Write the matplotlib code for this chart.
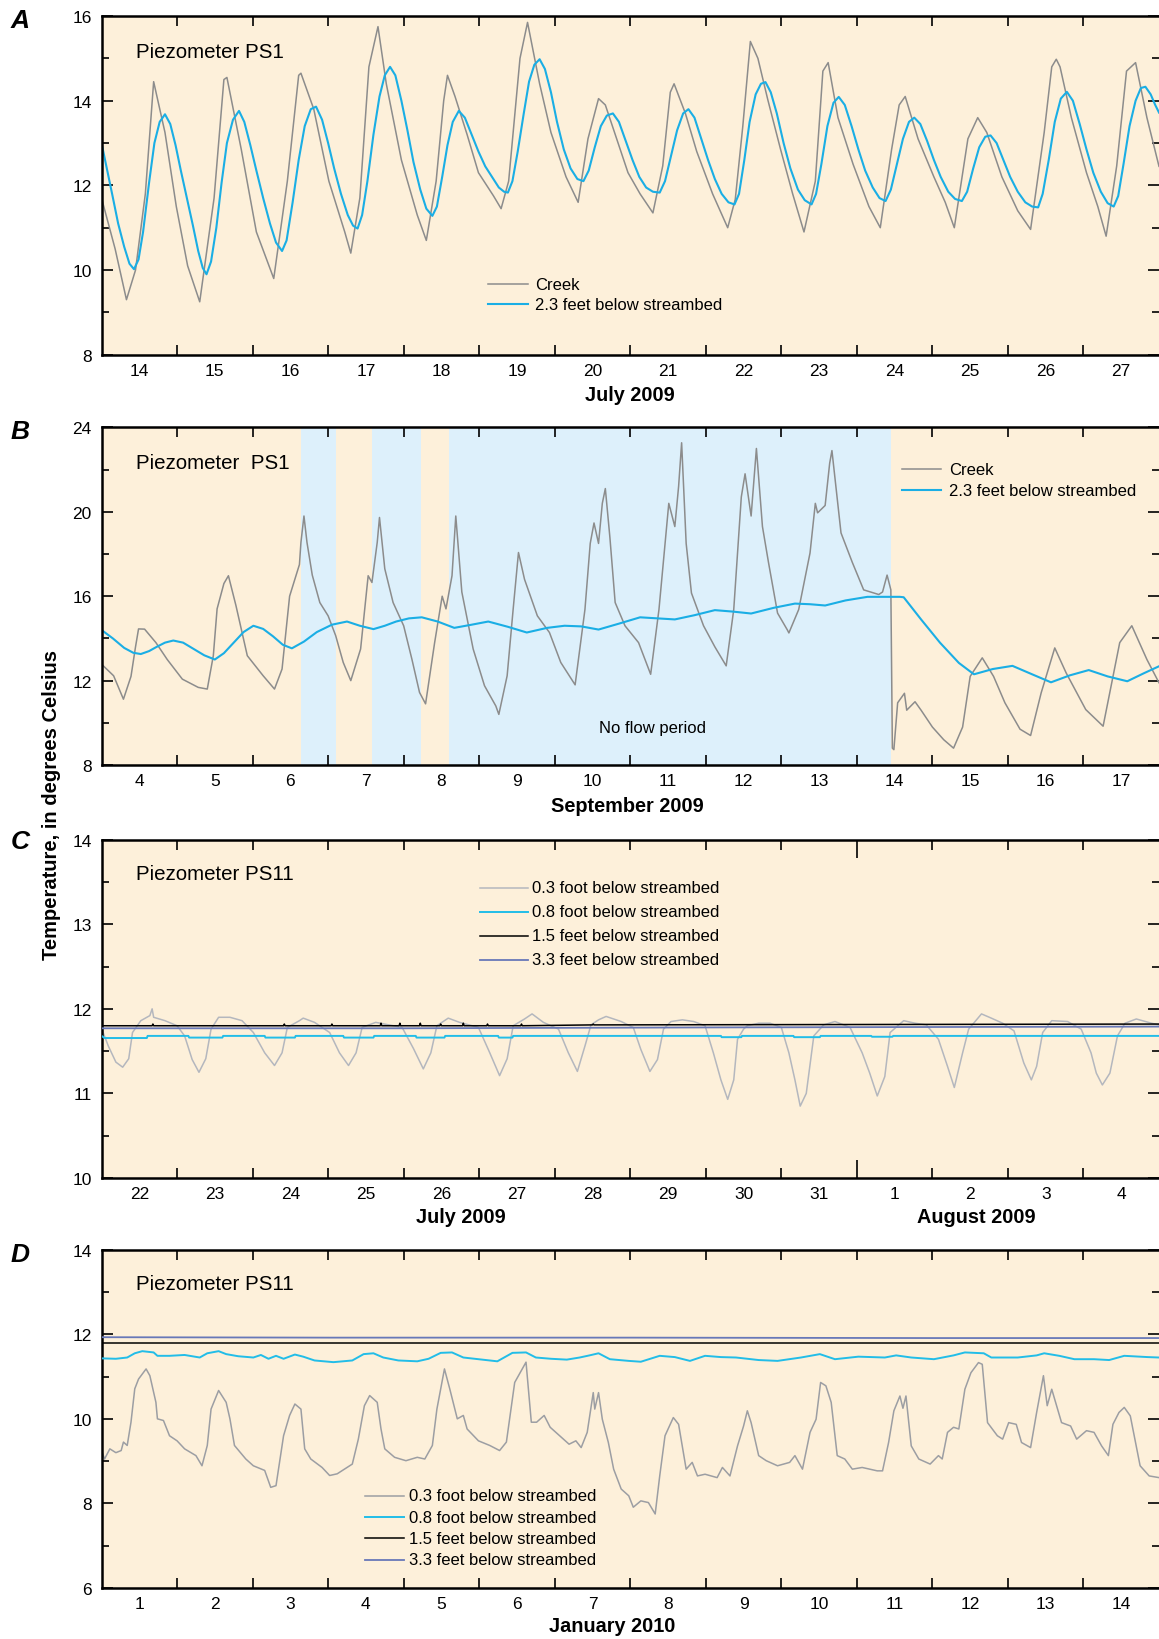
import numpy as np
import matplotlib
matplotlib.use("Agg")
import matplotlib.pyplot as plt

plt.rcParams['font.family'] = ['Liberation Sans', 'DejaVu Sans']

## Panel A - July 2009, piezometer PS1 (day of month)
a_creek_t = [14.00, 14.18, 14.33, 14.45, 14.58, 14.69, 14.84, 14.99, 15.14, 15.30,
             15.49, 15.62, 15.66, 15.85, 16.05, 16.28, 16.46, 16.61, 16.64, 16.81,
             17.01, 17.22, 17.30, 17.42, 17.54, 17.66, 17.77, 17.97, 18.18, 18.30,
             18.43, 18.53, 18.58, 18.68, 18.84, 18.99, 19.19, 19.29, 19.39, 19.54,
             19.64, 19.80, 19.95, 20.15, 20.31, 20.44, 20.58, 20.67, 20.82, 20.97,
             21.13, 21.30, 21.43, 21.53, 21.58, 21.73, 21.88, 22.09, 22.29, 22.39,
             22.49, 22.59, 22.69, 22.82, 22.99, 23.15, 23.30, 23.45, 23.55, 23.62,
             23.75, 23.95, 24.16, 24.31, 24.46, 24.56, 24.64, 24.81, 25.02, 25.17,
             25.29, 25.47, 25.60, 25.72, 25.92, 26.13, 26.30, 26.48, 26.58, 26.64,
             26.69, 26.84, 27.04, 27.19, 27.30, 27.44, 27.57, 27.69, 27.84, 28.00]
a_creek_v = [11.7, 10.5, 9.3, 10.0, 11.8, 14.45, 13.25, 11.5, 10.1, 9.25,
             11.7, 14.5, 14.55, 12.85, 10.9, 9.8, 12.1, 14.6, 14.65, 13.8,
             12.1, 10.9, 10.4, 11.7, 14.8, 15.75, 14.4, 12.6, 11.3, 10.7,
             12.1, 14.0, 14.6, 14.1, 13.2, 12.3, 11.75, 11.45, 12.1, 15.0,
             15.85, 14.4, 13.25, 12.2, 11.6, 13.1, 14.05, 13.9, 13.1, 12.3,
             11.8, 11.35, 12.46, 14.2, 14.4, 13.7, 12.8, 11.8, 11.0, 11.67,
             13.4, 15.4, 15.0, 14.03, 12.85, 11.8, 10.9, 12.1, 14.7, 14.9,
             13.6, 12.5, 11.5, 11.0, 12.85, 13.9, 14.1, 13.1, 12.2, 11.6,
             11.0, 13.1, 13.6, 13.25, 12.2, 11.4, 10.96, 13.25, 14.8, 14.98,
             14.8, 13.6, 12.3, 11.5, 10.8, 12.46, 14.7, 14.9, 13.6, 12.45]

a_deep_t = [14.00, 14.07, 14.14, 14.22, 14.30, 14.37, 14.43, 14.49, 14.55, 14.63,
            14.70, 14.77, 14.84, 14.91, 14.98, 15.05, 15.13, 15.21, 15.28, 15.34,
            15.39, 15.45, 15.52, 15.59, 15.66, 15.74, 15.82, 15.89, 15.97, 16.05,
            16.14, 16.23, 16.31, 16.39, 16.45, 16.53, 16.61, 16.69, 16.77, 16.84,
            16.92, 17.00, 17.08, 17.17, 17.26, 17.33, 17.39, 17.45, 17.52, 17.60,
            17.68, 17.75, 17.82, 17.89, 17.97, 18.05, 18.13, 18.22, 18.30, 18.38,
            18.44, 18.51, 18.58, 18.65, 18.73, 18.81, 18.90, 18.99, 19.08, 19.17,
            19.26, 19.33, 19.38, 19.44, 19.51, 19.59, 19.66, 19.73, 19.80, 19.87,
            19.95, 20.03, 20.12, 20.21, 20.30, 20.38, 20.45, 20.53, 20.61, 20.69,
            20.77, 20.85, 20.94, 21.03, 21.12, 21.21, 21.30, 21.39, 21.46, 21.54,
            21.62, 21.70, 21.77, 21.85, 21.94, 22.03, 22.12, 22.21, 22.30, 22.38,
            22.44, 22.51, 22.58, 22.66, 22.73, 22.79, 22.86, 22.94, 23.03, 23.12,
            23.22, 23.31, 23.40, 23.46, 23.53, 23.61, 23.69, 23.76, 23.84, 23.93,
            24.02, 24.11, 24.21, 24.30, 24.38, 24.45, 24.53, 24.61, 24.69, 24.76,
            24.84, 24.93, 25.02, 25.11, 25.21, 25.30, 25.39, 25.46, 25.54, 25.62,
            25.70, 25.77, 25.85, 25.94, 26.03, 26.13, 26.23, 26.32, 26.40, 26.46,
            26.54, 26.62, 26.70, 26.78, 26.86, 26.95, 27.04, 27.13, 27.23, 27.32,
            27.40, 27.46, 27.53, 27.61, 27.69, 27.76, 27.82, 27.89, 27.95, 28.00]
a_deep_v = [13.0, 12.4, 11.8, 11.1, 10.55, 10.15, 10.02, 10.25, 10.9, 12.07,
            13.0, 13.5, 13.68, 13.45, 12.95, 12.35, 11.7, 11.05, 10.45, 10.05,
            9.9, 10.2, 11.0, 12.07, 13.0, 13.55, 13.76, 13.5, 12.95, 12.35,
            11.7, 11.1, 10.65, 10.45, 10.7, 11.6, 12.6, 13.4, 13.8, 13.86,
            13.55, 13.0, 12.4, 11.8, 11.3, 11.05, 10.98, 11.3, 12.1, 13.2,
            14.1, 14.6, 14.8, 14.6, 14.0, 13.3, 12.55, 11.9, 11.45, 11.28,
            11.5, 12.2, 12.95, 13.5, 13.76, 13.6, 13.2, 12.8, 12.45, 12.2,
            11.95, 11.85, 11.83, 12.1, 12.8, 13.7, 14.45, 14.85, 14.98, 14.75,
            14.2, 13.5, 12.85, 12.4, 12.15, 12.1, 12.35, 12.9, 13.4, 13.65,
            13.7, 13.5, 13.05, 12.6, 12.2, 11.95, 11.85, 11.83, 12.1, 12.7,
            13.3, 13.7, 13.8, 13.6, 13.1, 12.6, 12.15, 11.8, 11.6, 11.55,
            11.8, 12.6, 13.5, 14.15, 14.4, 14.44, 14.2, 13.7, 13.0, 12.4,
            11.9, 11.65, 11.55, 11.8, 12.5, 13.4, 13.95, 14.09, 13.9, 13.4,
            12.85, 12.35, 11.95, 11.7, 11.63, 11.9, 12.5, 13.1, 13.5, 13.6,
            13.45, 13.05, 12.6, 12.2, 11.85, 11.68, 11.63, 11.85, 12.4, 12.9,
            13.15, 13.18, 13.0, 12.6, 12.2, 11.85, 11.6, 11.5, 11.48, 11.8,
            12.6, 13.5, 14.05, 14.21, 14.0, 13.45, 12.85, 12.3, 11.85, 11.58,
            11.5, 11.75, 12.5, 13.4, 14.0, 14.3, 14.33, 14.15, 13.9, 13.72]

## Panel B - September 2009, piezometer PS1
b_creek_t = [4.00, 4.16, 4.29, 4.39, 4.45, 4.49, 4.57, 4.72, 4.87, 5.07,
             5.28, 5.40, 5.48, 5.53, 5.62, 5.68, 5.78, 5.93, 6.14, 6.29,
             6.39, 6.49, 6.62, 6.64, 6.68, 6.72, 6.79, 6.89, 7.00, 7.10,
             7.20, 7.30, 7.43, 7.53, 7.58, 7.65, 7.68, 7.75, 7.86, 8.00,
             8.11, 8.21, 8.29, 8.41, 8.51, 8.56, 8.64, 8.69, 8.77, 8.92,
             9.07, 9.22, 9.26, 9.37, 9.45, 9.52, 9.60, 9.77, 9.93, 10.08,
             10.27, 10.40, 10.47, 10.52, 10.58, 10.63, 10.67, 10.73, 10.80, 10.93,
             11.11, 11.27, 11.38, 11.51, 11.59, 11.64, 11.68, 11.74, 11.81, 11.97,
             12.12, 12.27, 12.37, 12.47, 12.52, 12.60, 12.67, 12.75, 12.83, 12.95,
             13.08, 13.10, 13.23, 13.38, 13.45, 13.48, 13.58, 13.64, 13.67, 13.79,
             13.94, 14.09, 14.29, 14.34, 14.40, 14.45, 14.47, 14.49, 14.54, 14.63,
             14.66, 14.77, 14.85, 15.00, 15.15, 15.28, 15.40, 15.50, 15.66, 15.81,
             15.96, 16.16, 16.30, 16.44, 16.62, 16.77, 17.03, 17.26, 17.48, 17.64,
             17.84, 18.00]
b_creek_v = [12.78, 12.23, 11.12, 12.2, 13.6, 14.45, 14.44, 13.8, 13.0, 12.07,
             11.68, 11.6, 13.18, 15.4, 16.6, 16.97, 15.55, 13.18, 12.23, 11.6,
             12.55, 16.0, 17.5, 18.55, 19.8, 18.55, 17.0, 15.7, 15.07, 14.13,
             12.86, 12.0, 13.5, 16.97, 16.65, 18.55, 19.73, 17.3, 15.7, 14.6,
             13.0, 11.44, 10.9, 13.8, 16.0, 15.4, 16.97, 19.8, 16.2, 13.5,
             11.76, 10.8, 10.4, 12.23, 15.4, 18.07, 16.8, 15.07, 14.28, 12.86,
             11.8, 15.37, 18.5, 19.47, 18.5, 20.4, 21.1, 18.8, 15.7, 14.6,
             13.8, 12.3, 15.37, 20.4, 19.3, 21.2, 23.27, 18.5, 16.15, 14.6,
             13.6, 12.7, 15.37, 20.7, 21.8, 19.8, 23.0, 19.3, 17.6, 15.2,
             14.4, 14.26, 15.37, 18.05, 20.4, 19.95, 20.3, 22.3, 22.9, 19.0,
             17.6, 16.3, 16.08, 16.2, 17.0, 16.3, 8.8, 8.73, 10.95, 11.4,
             10.6, 11.0, 10.6, 9.8, 9.2, 8.8, 9.8, 12.2, 13.08, 12.2,
             10.95, 9.7, 9.4, 11.42, 13.55, 12.37, 10.63, 9.84, 13.8, 14.6,
             13.0, 11.9]

b_deep_t = [4.00, 4.15, 4.30, 4.42, 4.52, 4.63, 4.73, 4.84, 4.95, 5.08,
            5.22, 5.36, 5.50, 5.62, 5.75, 5.88, 6.01, 6.14, 6.27, 6.40,
            6.52, 6.68, 6.85, 7.05, 7.25, 7.42, 7.60, 7.75, 7.90, 8.07,
            8.24, 8.45, 8.67, 8.90, 9.12, 9.38, 9.63, 9.90, 10.13, 10.35,
            10.58, 10.85, 11.13, 11.36, 11.59, 11.85, 12.12, 12.36, 12.60, 12.90,
            13.18, 13.38, 13.58, 13.85, 14.14, 14.57, 14.62, 14.85, 15.10, 15.35,
            15.55, 15.80, 16.06, 16.32, 16.57, 16.82, 17.07, 17.32, 17.58, 17.80,
            18.00]
b_deep_v = [14.4, 14.0, 13.55, 13.32, 13.26, 13.4, 13.6, 13.8, 13.9, 13.8,
            13.5, 13.2, 13.0, 13.3, 13.8, 14.3, 14.6, 14.45, 14.1, 13.7,
            13.53, 13.85, 14.3, 14.65, 14.8, 14.6, 14.44, 14.6, 14.8, 14.95,
            15.0, 14.8, 14.5, 14.65, 14.8, 14.55, 14.28, 14.5, 14.6, 14.57,
            14.42, 14.7, 15.0, 14.95, 14.9, 15.1, 15.34, 15.27, 15.18, 15.45,
            15.65, 15.62, 15.56, 15.8, 15.97, 15.97, 15.95, 14.9, 13.8, 12.84,
            12.3, 12.55, 12.7, 12.3, 11.92, 12.25, 12.5, 12.2, 11.97, 12.35,
            12.68]

# no flow periods (start, end) in days
noflow_start = [6.645, 7.587, 8.598]
noflow_end = [7.10, 8.224, 14.457]

## Panel C - July/August 2009, piezometer PS11 (August 1 = day 32)
c_03_t = [22.00, 22.09, 22.19, 22.28, 22.36, 22.41, 22.52, 22.64, 22.67, 22.69,
          22.84, 23.00, 23.10, 23.20, 23.29, 23.38, 23.45, 23.55, 23.70, 23.86,
          24.01, 24.16, 24.29, 24.39, 24.46, 24.62, 24.67, 24.82, 25.02, 25.15,
          25.27, 25.37, 25.45, 25.63, 25.98, 26.13, 26.26, 26.36, 26.44, 26.59,
          26.74, 26.99, 27.14, 27.27, 27.37, 27.45, 27.60, 27.70, 27.85, 28.05,
          28.18, 28.30, 28.40, 28.48, 28.58, 28.68, 28.88, 29.04, 29.14, 29.26,
          29.36, 29.44, 29.54, 29.69, 29.84, 29.99, 30.10, 30.20, 30.29, 30.37,
          30.42, 30.50, 30.55, 30.70, 30.85, 31.00, 31.10, 31.18, 31.25, 31.33,
          31.43, 31.56, 31.71, 31.91, 32.07, 32.17, 32.27, 32.37, 32.44, 32.62,
          32.77, 32.92, 33.08, 33.20, 33.29, 33.40, 33.48, 33.65, 33.78, 33.93,
          34.08, 34.21, 34.31, 34.38, 34.46, 34.58, 34.79, 34.97, 35.10, 35.17,
          35.25, 35.35, 35.45, 35.55, 35.70, 35.90, 36.00]
c_03_v = [11.77, 11.56, 11.37, 11.31, 11.41, 11.72, 11.86, 11.92, 12.00, 11.90,
          11.86, 11.80, 11.68, 11.40, 11.25, 11.41, 11.76, 11.90, 11.90, 11.86,
          11.72, 11.48, 11.33, 11.48, 11.78, 11.86, 11.89, 11.84, 11.72, 11.48,
          11.33, 11.48, 11.78, 11.84, 11.78, 11.53, 11.29, 11.48, 11.80, 11.89,
          11.84, 11.78, 11.48, 11.21, 11.41, 11.80, 11.88, 11.94, 11.84, 11.76,
          11.48, 11.26, 11.56, 11.81, 11.87, 11.91, 11.85, 11.78, 11.52, 11.26,
          11.40, 11.76, 11.85, 11.87, 11.85, 11.80, 11.48, 11.16, 10.93, 11.16,
          11.64, 11.76, 11.80, 11.83, 11.83, 11.78, 11.48, 11.16, 10.85, 11.00,
          11.68, 11.81, 11.85, 11.78, 11.48, 11.24, 10.97, 11.20, 11.72, 11.86,
          11.83, 11.81, 11.64, 11.32, 11.07, 11.48, 11.76, 11.94, 11.89, 11.83,
          11.74, 11.36, 11.16, 11.32, 11.72, 11.86, 11.85, 11.76, 11.48, 11.24,
          11.10, 11.24, 11.68, 11.83, 11.88, 11.83, 11.81]

c_08_t = [22.00, 22.04, 22.60, 22.61, 23.15, 23.16, 23.60, 23.61, 24.16, 24.17,
          24.56, 24.57, 25.20, 25.21, 25.60, 25.61, 26.16, 26.17, 26.54, 26.55,
          27.25, 27.26, 27.44, 27.45, 30.20, 30.21, 30.47, 30.48, 31.16, 31.17,
          31.51, 31.52, 32.19, 32.20, 32.47, 32.48, 36.00]
c_08_v = [11.68, 11.655, 11.655, 11.68, 11.68, 11.66, 11.66, 11.68, 11.68, 11.66,
          11.66, 11.68, 11.68, 11.66, 11.66, 11.68, 11.68, 11.66, 11.66, 11.68,
          11.68, 11.66, 11.66, 11.68, 11.68, 11.665, 11.665, 11.68, 11.68, 11.665,
          11.665, 11.68, 11.68, 11.67, 11.67, 11.68, 11.68]

c_15_t = [22.00, 22.67, 22.68, 22.69, 24.41, 24.42, 24.43, 25.04, 25.05, 25.06,
          25.69, 25.70, 25.71, 25.94, 25.95, 25.96, 26.21, 26.22, 26.23, 26.48,
          26.49, 26.50, 26.78, 26.79, 26.80, 27.10, 27.11, 27.12, 27.55, 27.56,
          27.57, 28.50, 28.51, 28.52, 36.00]
c_15_v = [11.80, 11.80, 11.82, 11.80, 11.80, 11.82, 11.80, 11.80, 11.82, 11.80,
          11.80, 11.83, 11.80, 11.80, 11.83, 11.80, 11.80, 11.83, 11.80, 11.80,
          11.82, 11.80, 11.80, 11.83, 11.80, 11.80, 11.82, 11.80, 11.80, 11.82,
          11.80, 11.81, 11.82, 11.81, 11.82]

c_33_t = [22.0, 26.0, 30.0, 36.0]
c_33_v = [11.77, 11.77, 11.78, 11.79]

## Panel D - January 2010, piezometer PS11
d_03_t = [1.00, 1.04, 1.11, 1.19, 1.26, 1.29, 1.34, 1.39, 1.44, 1.49,
          1.59, 1.64, 1.72, 1.74, 1.82, 1.90, 2.00, 2.10, 2.25, 2.33,
          2.40, 2.45, 2.55, 2.65, 2.70, 2.76, 2.91, 3.01, 3.16, 3.24,
          3.31, 3.41, 3.49, 3.56, 3.64, 3.69, 3.77, 3.92, 4.02, 4.12,
          4.32, 4.40, 4.48, 4.55, 4.60, 4.65, 4.70, 4.75, 4.88, 5.03,
          5.18, 5.28, 5.38, 5.44, 5.54, 5.61, 5.71, 5.79, 5.84, 5.99,
          6.14, 6.27, 6.36, 6.47, 6.62, 6.69, 6.76, 6.86, 6.94, 7.09,
          7.19, 7.28, 7.35, 7.43, 7.51, 7.53, 7.58, 7.63, 7.71, 7.78,
          7.88, 7.98, 8.04, 8.14, 8.24, 8.33, 8.39, 8.46, 8.57, 8.64,
          8.74, 8.82, 8.89, 8.99, 9.15, 9.22, 9.32, 9.42, 9.50, 9.55,
          9.60, 9.70, 9.80, 9.95, 10.11, 10.18, 10.28, 10.38, 10.46, 10.52,
          10.59, 10.66, 10.74, 10.84, 10.94, 11.07, 11.27, 11.34, 11.42, 11.49,
          11.57, 11.61, 11.65, 11.72, 11.82, 11.97, 12.08, 12.13, 12.20, 12.28,
          12.35, 12.43, 12.51, 12.61, 12.66, 12.73, 12.86, 12.93, 13.01, 13.11,
          13.18, 13.30, 13.38, 13.47, 13.52, 13.58, 13.71, 13.83, 13.91, 14.04,
          14.14, 14.24, 14.33, 14.39, 14.47, 14.54, 14.62, 14.75, 14.87, 15.00]
d_03_v = [9.25, 9.05, 9.29, 9.20, 9.25, 9.45, 9.37, 9.92, 10.71, 10.94,
          11.18, 11.02, 10.39, 10.00, 9.96, 9.60, 9.48, 9.29, 9.13, 8.89,
          9.37, 10.23, 10.67, 10.39, 10.00, 9.37, 9.05, 8.89, 8.78, 8.38,
          8.42, 9.60, 10.08, 10.35, 10.23, 9.29, 9.05, 8.85, 8.66, 8.70,
          8.93, 9.52, 10.31, 10.55, 10.47, 10.39, 9.76, 9.29, 9.09, 9.01,
          9.09, 9.05, 9.37, 10.23, 11.18, 10.71, 10.00, 10.08, 9.76, 9.48,
          9.37, 9.25, 9.45, 10.86, 11.34, 9.92, 9.92, 10.08, 9.80, 9.56,
          9.40, 9.48, 9.32, 9.68, 10.62, 10.23, 10.62, 9.99, 9.44, 8.81,
          8.34, 8.18, 7.91, 8.06, 8.02, 7.75, 8.65, 9.60, 10.03, 9.87,
          8.81, 8.97, 8.65, 8.69, 8.61, 8.85, 8.65, 9.36, 9.83, 10.19,
          9.91, 9.13, 9.01, 8.89, 8.97, 9.13, 8.81, 9.68, 9.99, 10.86,
          10.78, 10.39, 9.13, 9.05, 8.81, 8.85, 8.77, 8.77, 9.44, 10.19,
          10.54, 10.25, 10.54, 9.36, 9.05, 8.93, 9.13, 9.05, 9.68, 9.80,
          9.76, 10.70, 11.09, 11.33, 11.29, 9.91, 9.60, 9.52, 9.91, 9.87,
          9.44, 9.32, 10.15, 11.02, 10.31, 10.70, 9.91, 9.83, 9.52, 9.72,
          9.68, 9.36, 9.13, 9.87, 10.15, 10.27, 10.07, 8.89, 8.65, 8.61]

d_08_t = [1.00, 1.19, 1.34, 1.44, 1.54, 1.69, 1.74, 1.90, 2.10, 2.30,
          2.40, 2.55, 2.65, 2.81, 3.01, 3.11, 3.21, 3.31, 3.41, 3.56,
          3.67, 3.82, 4.07, 4.32, 4.47, 4.60, 4.73, 4.93, 5.18, 5.33,
          5.49, 5.64, 5.79, 6.04, 6.24, 6.44, 6.62, 6.75, 6.95, 7.16,
          7.33, 7.46, 7.58, 7.73, 7.98, 8.14, 8.39, 8.59, 8.79, 8.99,
          9.20, 9.40, 9.70, 9.95, 10.26, 10.51, 10.71, 11.02, 11.37, 11.52,
          11.72, 12.02, 12.28, 12.43, 12.68, 12.78, 13.13, 13.38, 13.48, 13.68,
          13.88, 14.14, 14.34, 14.54, 14.85, 15.00]
d_08_v = [11.43, 11.42, 11.45, 11.55, 11.60, 11.57, 11.49, 11.49, 11.51, 11.45,
          11.55, 11.60, 11.53, 11.48, 11.45, 11.51, 11.42, 11.49, 11.42, 11.52,
          11.47, 11.38, 11.34, 11.38, 11.53, 11.55, 11.45, 11.38, 11.36, 11.42,
          11.56, 11.57, 11.45, 11.40, 11.36, 11.56, 11.57, 11.45, 11.42, 11.40,
          11.45, 11.50, 11.55, 11.41, 11.37, 11.35, 11.49, 11.46, 11.37, 11.49,
          11.46, 11.45, 11.39, 11.37, 11.45, 11.53, 11.41, 11.47, 11.45, 11.50,
          11.45, 11.41, 11.50, 11.57, 11.55, 11.45, 11.45, 11.50, 11.55, 11.49,
          11.41, 11.41, 11.39, 11.49, 11.46, 11.45]

d_15_t = [1.0, 15.0]
d_15_v = [11.79, 11.79]
d_33_t = [1.0, 4.0, 8.0, 12.0, 15.0]
d_33_v = [11.93, 11.92, 11.92, 11.91, 11.91]

## colours
bg = '#fdf0da'
noflow_col = '#ddf0fb'
creek_col = '#8c8c8c'
blue_col = '#1aaee5'
gray03_c = '#b4b7be'
gray03_d = '#9c9ea3'
cyan08 = '#22bde8'
slate33 = '#6878b8'


def style_axes(ax, x0, x1, y0, y1, ymaj, ymin, day_labels):
    ax.set_facecolor(bg)
    ax.set_xlim(x0, x1)
    ax.set_ylim(y0, y1)
    ax.set_xticks(np.arange(x0 + 1, x1))
    ax.set_xticklabels([])
    ax.set_xticks(np.arange(x0 + 0.5, x1), minor=True)
    ax.set_xticklabels(day_labels, minor=True)
    ax.tick_params(axis='x', which='major', direction='in', top=True, bottom=True,
                   length=7.5, width=1.2)
    ax.tick_params(axis='x', which='minor', length=0, pad=6, labelsize=12.5)
    ax.set_yticks(ymaj)
    ax.set_yticks(ymin, minor=True)
    ax.tick_params(axis='y', which='both', direction='in', left=True, right=True,
                   width=1.2, labelsize=12.5, pad=7)
    ax.tick_params(axis='y', which='major', length=8)
    ax.tick_params(axis='y', which='minor', length=5)
    for s in ['left', 'top', 'bottom']:
        ax.spines[s].set_linewidth(1.8)
    ax.spines['right'].set_visible(False)


def legend_rows(ax, x0, x1, xt, ys, labels, colors, widths):
    for y, lab, c, w in zip(ys, labels, colors, widths):
        ax.plot([x0, x1], [y, y], transform=ax.transAxes, color=c, lw=w, clip_on=False)
        ax.text(xt, y, lab, transform=ax.transAxes, va='center', ha='left', fontsize=12)


fig = plt.figure(figsize=(11.59, 16.40), dpi=100)
axA = fig.add_axes([0.0876, 0.7831, 0.9124, 0.2065])
axB = fig.add_axes([0.0876, 0.5329, 0.9124, 0.2059])
axC = fig.add_axes([0.0876, 0.2811, 0.9124, 0.2063])
axD = fig.add_axes([0.0876, 0.0311, 0.9124, 0.2063])

# A
axA.plot(a_creek_t, a_creek_v, color=creek_col, lw=1.1)
axA.plot(a_deep_t, a_deep_v, color=blue_col, lw=1.5)
style_axes(axA, 14, 28, 8, 16, [8, 10, 12, 14, 16], [9, 11, 13, 15],
           [str(d) for d in range(14, 28)])
axA.text(0.0326, 0.8946, 'Piezometer PS1', transform=axA.transAxes, va='center', fontsize=14.8)
legend_rows(axA, 0.3655, 0.4033, 0.41, [0.2087, 0.1497],
            ['Creek', '2.3 feet below streambed'], [creek_col, blue_col], [1.1, 1.5])
axA.text(0.4998, -0.116, 'July 2009', transform=axA.transAxes, ha='center', va='center',
         fontsize=14.3, fontweight='bold')

# B
for s, e in zip(noflow_start, noflow_end):
    axB.axvspan(s, e, color=noflow_col, lw=0, zorder=0)
axB.plot(b_creek_t, b_creek_v, color=creek_col, lw=1.1)
axB.plot(b_deep_t, b_deep_v, color=blue_col, lw=1.5)
style_axes(axB, 4, 18, 8, 24, [8, 12, 16, 20, 24], [10, 14, 18, 22],
           [str(d) for d in range(4, 18)])
axB.text(0.0326, 0.8972, 'Piezometer  PS1', transform=axB.transAxes, va='center', fontsize=14.8)
legend_rows(axB, 0.757, 0.794, 0.8014, [0.8765, 0.8143],
            ['Creek', '2.3 feet below streambed'], [creek_col, blue_col], [1.1, 1.5])
axB.text(0.5206, 0.1125, 'No flow period', transform=axB.transAxes, ha='center', va='center',
         fontsize=12)
axB.text(0.4975, -0.12, 'September 2009', transform=axB.transAxes, ha='center', va='center',
         fontsize=14.3, fontweight='bold')

# C
axC.plot(c_03_t, c_03_v, color=gray03_c, lw=1.1, zorder=2)
axC.plot(c_33_t, c_33_v, color=slate33, lw=1.3, zorder=3)
axC.plot(c_08_t, c_08_v, color=cyan08, lw=1.4, zorder=4)
axC.plot(c_15_t, c_15_v, color='black', lw=1.1, zorder=5)
c_labels = [str(d) for d in range(22, 32)] + ['1', '2', '3', '4']
style_axes(axC, 22, 36, 10, 14, [10, 11, 12, 13, 14], [10.5, 11.5, 12.5, 13.5], c_labels)
for tk, loc in zip(axC.xaxis.get_major_ticks(), axC.get_xticks()):
    if loc == 32:
        tk.tick1line.set_markersize(13)
        tk.tick2line.set_markersize(13)
axC.text(0.0326, 0.8986, 'Piezometer PS11', transform=axC.transAxes, va='center', fontsize=14.8)
legend_rows(axC, 0.3579, 0.4033, 0.407, [0.8575, 0.7866, 0.7156, 0.6447],
            ['0.3 foot below streambed', '0.8 foot below streambed',
             '1.5 feet below streambed', '3.3 feet below streambed'],
            [gray03_c, cyan08, 'black', slate33], [1.1, 1.4, 1.1, 1.3])
axC.text(0.34, -0.114, 'July 2009', transform=axC.transAxes, ha='center', va='center',
         fontsize=14.3, fontweight='bold')
axC.text(0.827, -0.114, 'August 2009', transform=axC.transAxes, ha='center', va='center',
         fontsize=14.3, fontweight='bold')

# D
axD.plot(d_03_t, d_03_v, color=gray03_d, lw=1.1, zorder=2)
axD.plot(d_08_t, d_08_v, color=cyan08, lw=1.4, zorder=3)
axD.plot(d_15_t, d_15_v, color='black', lw=1.1, zorder=4)
axD.plot(d_33_t, d_33_v, color=slate33, lw=1.3, zorder=5)
style_axes(axD, 1, 15, 6, 14, [6, 8, 10, 12, 14], [7, 9, 11, 13],
           [str(d) for d in range(1, 15)])
axD.text(0.0326, 0.8986, 'Piezometer PS11', transform=axD.transAxes, va='center', fontsize=14.8)
legend_rows(axD, 0.2492, 0.2861, 0.2908, [0.2728, 0.209, 0.1469, 0.0828],
            ['0.3 foot below streambed', '0.8 foot below streambed',
             '1.5 feet below streambed', '3.3 feet below streambed'],
            [gray03_d, cyan08, 'black', slate33], [1.1, 1.4, 1.1, 1.3])
axD.text(0.4827, -0.111, 'January 2010', transform=axD.transAxes, ha='center', va='center',
         fontsize=14.3, fontweight='bold')

# panel letters and shared y label
for letter, ypx in zip(['A', 'B', 'C', 'D'], [21, 432, 842, 1255]):
    fig.text(20 / 1159, 1 - ypx / 1640, letter, ha='center', va='center', fontsize=19,
             fontweight='bold', fontstyle='italic')
fig.text(52 / 1159, 1 - 805 / 1640, 'Temperature, in degrees Celsius', rotation=90,
         ha='center', va='center', fontsize=14.5, fontweight='bold')

fig.savefig('out.png', dpi=100)
